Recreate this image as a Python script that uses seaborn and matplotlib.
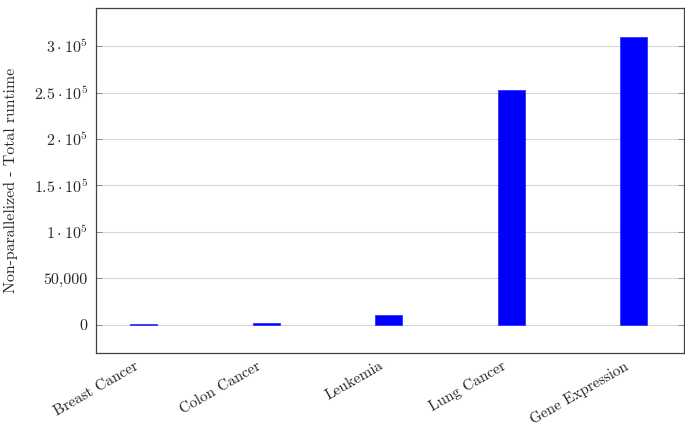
import matplotlib
matplotlib.use("Agg")
import matplotlib.pyplot as plt
import matplotlib.transforms as mtrans
import seaborn as sns
import pandas as pd

categories = ["Breast Cancer", "Colon Cancer", "Leukemia", "Lung Cancer", "Gene Expression"]
runtimes = [500, 1600, 10500, 253000, 310000]
ytick_values = [0, 50000, 100000, 150000, 200000, 250000, 300000]
ytick_labels = ["0", "50,000", r"$1\cdot10^{5}$", r"$1.5\cdot10^{5}$", r"$2\cdot10^{5}$",
                r"$2.5\cdot10^{5}$", r"$3\cdot10^{5}$"]
ylabel = "Non-parallelized - Total runtime"

sns.set_theme(style="white")
plt.rcParams["font.family"] = ["cmr10", "DejaVu Serif"]
plt.rcParams["mathtext.fontset"] = "cm"
plt.rcParams["axes.formatter.use_mathtext"] = True

df = pd.DataFrame({"category": categories, "runtime": runtimes})

fig = plt.figure(figsize=(6.85, 4.30), dpi=100)
ax = fig.add_axes([96 / 685, 1 - 353 / 430, (684 - 96) / 685, (353 - 8) / 430])

sns.barplot(data=df, x="category", y="runtime", color="#0000ff", saturation=1,
            width=0.22, edgecolor="#3333ff", linewidth=0.6, ax=ax, zorder=3)

ax.set_xlim(-0.39, 4.41)
ax.set_ylim(-30500, 341000)
ax.set_yticks(ytick_values)
ax.set_yticklabels(ytick_labels, fontsize=11.5)
ax.set_xticks(range(len(categories)))
ax.set_xticklabels([""] * len(categories))
base = mtrans.blended_transform_factory(ax.transData, ax.transAxes)
offset = mtrans.ScaledTranslation(-10 / 100, -6 / 100, fig.dpi_scale_trans)
for i, cat in enumerate(categories):
    ax.text(i, 0, cat, transform=base + offset, rotation=30, ha="right", va="top",
            rotation_mode="anchor", fontsize=11, clip_on=False)
ax.set_xlabel("")
ax.set_ylabel(ylabel, fontsize=11.4)
ax.yaxis.set_label_coords(-0.1327, 0.5)

ax.yaxis.grid(True, color="#d6d6d6", linewidth=0.8, zorder=0)
ax.xaxis.grid(False)
ax.set_axisbelow(True)

for s in ax.spines.values():
    s.set_color("#404040")
    s.set_linewidth(0.9)

ax.tick_params(axis="y", which="both", direction="in", left=True, right=True,
               length=4, color="#808080", width=0.6, pad=6)
ax.tick_params(axis="x", bottom=False, pad=6)

fig.savefig("out.png", dpi=100)
